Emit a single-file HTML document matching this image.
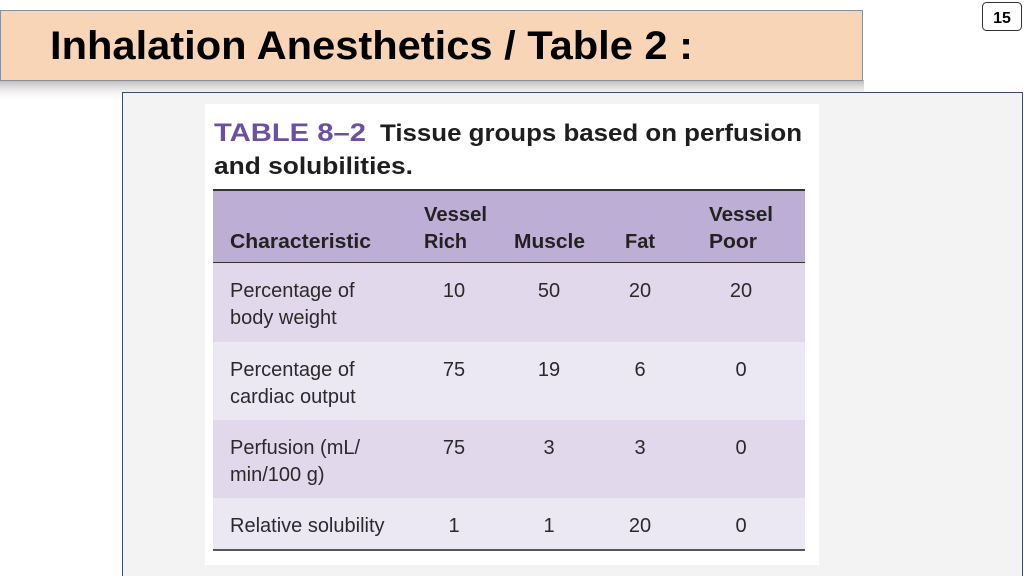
<!DOCTYPE html>
<html><head><meta charset="utf-8"><style>
html,body{margin:0;padding:0;background:#fff;}
svg{display:block;font-family:"Liberation Sans",sans-serif;}
</style></head><body>
<svg width="1024" height="576" viewBox="0 0 1024 576">
<defs><linearGradient id="sh" x1="0" y1="0" x2="0" y2="1"><stop offset="0" stop-color="#9a9a9a" stop-opacity="0.7"/><stop offset="1" stop-color="#fff" stop-opacity="0"/></linearGradient></defs>
<rect x="0" y="80" width="864" height="22" fill="url(#sh)"/>
<rect x="0.5" y="10.5" width="862" height="70" fill="#f9d5b7" stroke="#8a8f99"/>
<text x="50" y="59" font-size="40" font-weight="bold" fill="#000" textLength="643" lengthAdjust="spacingAndGlyphs">Inhalation Anesthetics / Table 2 :</text>
<rect x="982.5" y="2.5" width="39" height="28" rx="4" fill="#fff" stroke="#333"/>
<text x="1002" y="23" font-size="16" font-weight="bold" text-anchor="middle">15</text>
<rect x="122.5" y="92.5" width="900" height="490" fill="#f3f3f3" stroke="#3f4a6b"/>
<rect x="205" y="104" width="614" height="461" fill="#fff"/>
<text x="214" y="141" font-size="25" font-weight="bold" fill="#6a4fa3" textLength="152" lengthAdjust="spacingAndGlyphs">TABLE 8–2</text>
<text x="380" y="141" font-size="24" font-weight="bold" fill="#1e1e1e" textLength="422" lengthAdjust="spacingAndGlyphs">Tissue groups based on perfusion</text>
<text x="214" y="174" font-size="24" font-weight="bold" fill="#1e1e1e" textLength="199" lengthAdjust="spacingAndGlyphs">and solubilities.</text>
<rect x="213" y="190" width="592" height="73" fill="#bcaed4"/>
<rect x="213" y="189" width="592" height="2" fill="#333"/>
<rect x="213" y="262" width="592" height="2" fill="#333"/>
<g font-size="20" font-weight="bold" fill="#222">
<text x="230" y="248" textLength="141" lengthAdjust="spacingAndGlyphs">Characteristic</text>
<text x="424" y="221" textLength="63" lengthAdjust="spacingAndGlyphs">Vessel</text>
<text x="424" y="248" textLength="43" lengthAdjust="spacingAndGlyphs">Rich</text>
<text x="514" y="248" textLength="71" lengthAdjust="spacingAndGlyphs">Muscle</text>
<text x="625" y="248" textLength="30" lengthAdjust="spacingAndGlyphs">Fat</text>
<text x="709" y="221" textLength="64" lengthAdjust="spacingAndGlyphs">Vessel</text>
<text x="709" y="248" textLength="48" lengthAdjust="spacingAndGlyphs">Poor</text>
</g>
<g id="rows"></g>
<rect x="213" y="549" width="592" height="2" fill="#555"/>
</svg>
<script>
const rowLabels=[["Percentage of","body weight"],["Percentage of","cardiac output"],["Perfusion (mL/","min/100 g)"],["Relative solubility"]];
const vesselRich=["10","75","75","1"];
const muscle=["50","19","3","1"];
const fat=["20","6","3","20"];
const vesselPoor=["20","0","0","0"];
const NS="http://www.w3.org/2000/svg";
const g=document.getElementById('rows');
const rowTop=[263,342,420,498],rowH=[79,78,78,51];
const colX=[454,549,640,741];
const fills=["#e2d8ec","#ece8f3"];
function mk(t,a){const e=document.createElementNS(NS,t);for(const k in a)e.setAttribute(k,a[k]);return e;}
rowLabels.forEach((lab,i)=>{
  const r=mk('rect',{x:213,y:rowTop[i],width:592,height:rowH[i],fill:fills[i%2]});
  
  
  g.appendChild(r);
  const by=rowTop[i]+34;
  lab.forEach((s,j)=>{
    const t=mk('text',{x:230,y:by+j*27,'font-size':20,fill:'#2a2a2a'});
    t.textContent=s;
    
    
    g.appendChild(t);
  });
  [vesselRich,muscle,fat,vesselPoor].forEach((arr,c)=>{
    const t=mk('text',{x:colX[c],y:by,'font-size':20,fill:'#2a2a2a','text-anchor':'middle'});
    t.textContent=arr[i];
    
    
    g.appendChild(t);
  });
});
</script>
</body></html>
